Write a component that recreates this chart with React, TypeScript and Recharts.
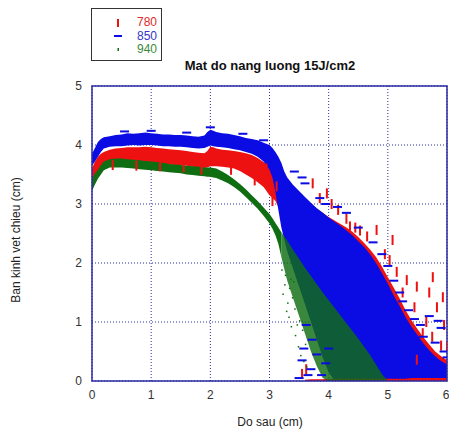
import React from 'react';
import { ComposedChart, Area, Scatter, XAxis, YAxis, CartesianGrid, ReferenceArea } from 'recharts';

// depth samples (cm)
const xs = [
  0, 0.05, 0.1, 0.15, 0.2,
  0.3, 0.4, 0.5, 0.6, 0.7, 0.8, 0.9, 1.0, 1.1, 1.2,
  1.3, 1.4, 1.5, 1.6, 1.7, 1.8, 1.9, 1.95, 2.0, 2.05,
  2.1, 2.2, 2.3, 2.4, 2.5, 2.6, 2.7, 2.8, 2.9, 3.0,
  3.05, 3.1, 3.15, 3.2, 3.25, 3.3, 3.4, 3.5, 3.6, 3.7,
  3.8, 3.9, 4.0, 4.1, 4.2, 4.3, 4.4, 4.5, 4.6, 4.7,
  4.8, 4.9, 5.0, 5.1, 5.2, 5.3, 5.4, 5.5, 5.6, 5.7,
  5.8, 5.9, 6.0,
];

// 780 nm cloud (upper / lower edge)
const redHigh = [
  3.6, 3.72, 3.8, 3.85, 3.88,
  3.92, 3.94, 3.95, 3.96, 3.96, 3.96, 3.97, 3.96, 3.95, 3.94,
  3.93, 3.92, 3.91, 3.9, 3.88, 3.87, 3.86, 3.9, 3.97, 3.96,
  3.94, 3.92, 3.91, 3.9, 3.88, 3.86, 3.83, 3.78, 3.71, 3.63,
  3.58, 3.52, 3.45, 3.4, 3.36, 3.32, 3.3, 3.2, 3.1, 3.0,
  2.92, 2.85, 2.78, 2.72, 2.66, 2.6, 2.53, 2.44, 2.34, 2.23,
  2.1, 1.94, 1.76, 1.58, 1.4, 1.2, 1.03, 0.88, 0.74, 0.62,
  0.5, 0.42, 0.35,
];
const redLow = [
  3.32, 3.42, 3.5, 3.57, 3.63,
  3.7, 3.7, 3.7, 3.7, 3.7, 3.69, 3.69, 3.69, 3.68, 3.68,
  3.67, 3.66, 3.66, 3.65, 3.63, 3.62, 3.61, 3.62, 3.64, 3.64,
  3.64, 3.63, 3.62, 3.6, 3.56, 3.5, 3.44, 3.37, 3.29, 3.15,
  3.1, 3.05, 2.95, 2.85, 2.6, 2.4, 2.1, 1.8, 1.5, 1.2,
  0.9, 0.6, 0.3, 0, 0, 0, 0, 0, 0, 0,
  0, 0, 0, 0, 0, 0, 0, 0, 0, 0,
  0, 0, 0,
];

// 850 nm cloud
const blueHigh = [
  3.85, 3.95, 4.05, 4.1, 4.13,
  4.15, 4.17, 4.18, 4.2, 4.19, 4.2, 4.21, 4.2, 4.19, 4.18,
  4.18, 4.17, 4.17, 4.16, 4.15, 4.14, 4.16, 4.22, 4.26, 4.24,
  4.22, 4.2, 4.19, 4.17, 4.15, 4.12, 4.1, 4.08, 4.04, 4.0,
  3.95, 3.88, 3.8, 3.7, 3.55, 3.45, 3.32, 3.22, 3.12, 3.02,
  2.93, 2.85, 2.77, 2.7, 2.63, 2.55, 2.47, 2.37, 2.27, 2.15,
  2.0, 1.83, 1.65, 1.45, 1.27, 1.08, 0.92, 0.78, 0.64, 0.52,
  0.42, 0.34, 0.28,
];
const blueLow = [
  3.65, 3.72, 3.8, 3.88, 3.94,
  3.97, 3.98, 3.98, 3.99, 4.0, 3.99, 4.0, 4.0, 3.99, 3.98,
  3.98, 3.97, 3.97, 3.96, 3.95, 3.94, 3.95, 3.97, 3.99, 3.98,
  3.97, 3.96, 3.95, 3.93, 3.91, 3.88, 3.85, 3.8, 3.72, 3.58,
  3.45, 3.2, 2.9, 2.6, 2.4, 2.2, 1.9, 1.6, 1.3, 1.0,
  0.7, 0.4, 0.15, 0, 0, 0, 0, 0, 0, 0,
  0, 0, 0, 0, 0, 0, 0, 0, 0, 0,
  0, 0, 0,
];

// 940 nm cloud
const greenHigh = [
  3.42, 3.52, 3.58, 3.66, 3.72,
  3.76, 3.77, 3.77, 3.76, 3.75, 3.74, 3.73, 3.72, 3.71, 3.7,
  3.68, 3.67, 3.66, 3.65, 3.64, 3.63, 3.62, 3.62, 3.62, 3.61,
  3.6, 3.55, 3.49, 3.42, 3.34, 3.25, 3.15, 3.05, 2.94, 2.83,
  2.76, 2.68, 2.6, 2.52, 2.45, 2.38, 2.22, 2.07, 1.92, 1.78,
  1.64, 1.5, 1.37, 1.24, 1.11, 0.98, 0.85, 0.72, 0.58, 0.44,
  0.28, 0.12, 0, 0, 0, 0, 0, 0, 0, 0,
  0, 0, 0,
];
const greenLow = [
  3.22, 3.33, 3.43, 3.5, 3.57,
  3.62, 3.62, 3.62, 3.61, 3.6, 3.59, 3.58, 3.57, 3.56, 3.55,
  3.54, 3.53, 3.52, 3.5, 3.49, 3.48, 3.47, 3.46, 3.46, 3.45,
  3.44, 3.4, 3.35, 3.29, 3.21, 3.12, 3.02, 2.92, 2.8, 2.67,
  2.58, 2.47, 2.32, 2.1, 1.9, 1.7, 1.4, 1.1, 0.8, 0.5,
  0.25, 0.05, 0, 0, 0, 0, 0, 0, 0, 0,
  0, 0, 0, 0, 0, 0, 0, 0, 0, 0,
  0, 0, 0,
];

// 780 nm points lying on the floor of the plot
const redFloorX = [3.6, 3.7, 3.8, 3.9, 4.0, 4.1, 4.2, 4.3, 4.4, 4.5, 4.6, 4.7, 4.8, 4.9, 5.0, 5.1, 5.2, 5.3, 5.4, 5.5, 5.6, 5.7, 5.8, 5.9, 6.0];
const redFloorTop = [0.02, 0.03, 0.03, 0.03, 0.04, 0.04, 0.04, 0.04, 0.04, 0.04, 0.04, 0.04, 0.04, 0.04, 0.04, 0.04, 0.04, 0.04, 0.05, 0.05, 0.05, 0.05, 0.05, 0.05, 0.05];

// stray points outside the dense clouds
const redMarks = [
  [0.35, 3.66], [0.75, 3.65], [1.15, 3.64], [1.55, 3.62], [1.85, 3.58], [2.35, 3.58], [2.75, 3.4], [3.05, 3.05],
  [2.95, 3.6], [3.12, 3.3],
  [3.73, 3.35], [3.97, 3.18], [4.16, 2.9], [4.36, 2.62], [4.53, 2.55], [4.81, 2.56], [5.08, 2.39], [5.03, 2.05],
  [5.32, 1.71], [5.49, 1.6], [5.76, 1.76], [5.93, 1.42], [5.83, 1.25], [5.59, 0.81], [6.0, 0.58], [5.49, 0.36],
  [4.3, 2.75], [4.65, 2.45], [4.95, 2.15], [5.15, 1.85], [5.25, 1.5], [5.45, 1.25], [5.65, 1.0], [5.75, 0.75],
  [5.9, 0.6], [5.95, 0.95], [4.05, 3.0], [3.85, 3.1], [5.7, 1.5], [3.55, 0.12], [3.62, 0.2], [4.45, 2.6],
];
const blueMarks = [
  [0.55, 4.23], [1.0, 4.24], [1.6, 4.21], [2.0, 4.3], [2.55, 4.19], [2.9, 4.08],
  [3.42, 3.55], [3.55, 3.45], [3.6, 3.35], [3.85, 3.1], [3.95, 3.0], [4.15, 2.95], [4.3, 2.85], [4.5, 2.6], [4.75, 2.35],
  [4.9, 2.15], [5.0, 1.95], [5.1, 1.7], [5.2, 1.5], [5.25, 1.35], [5.35, 1.2], [5.45, 1.05], [5.55, 0.95], [5.6, 0.75],
  [5.7, 1.1], [5.8, 0.65], [5.85, 1.02], [5.9, 0.9], [5.95, 0.5], [6.0, 0.4],
  [3.55, 0.35], [3.58, 0.55], [3.62, 0.95], [3.7, 0.2], [3.72, 0.7], [3.8, 0.45], [3.88, 0.1], [3.95, 0.3], [4.0, 0.55],
  [3.65, 0.1], [3.5, 0.05],
];
const greenMarks = [
  [3.21, 1.88], [3.23, 1.47], [3.26, 1.63], [3.27, 1.79], [3.31, 1.32], [3.33, 1.08], [3.34, 1.57], [3.37, 0.92],
  [3.41, 1.68], [3.43, 1.22], [3.44, 0.77], [3.49, 0.58], [3.51, 1.02], [3.53, 0.43], [3.56, 0.86], [3.58, 0.33],
  [3.61, 0.62], [3.63, 0.24], [3.29, 1.18], [3.39, 1.41], [3.47, 0.95], [3.36, 1.72],
];

const table = xs.map((x, i) => {
  const f = redFloorX.indexOf(x);
  const g = [greenLow[i], greenHigh[i]];
  return {
    x,
    red: [redLow[i], redHigh[i]],
    blue: [blueLow[i], blueHigh[i]],
    green: x <= 3.2 ? g : null,
    greenCloud: x >= 3.2 ? g : null,
    floor: f >= 0 ? [0, redFloorTop[f]] : null,
  };
});

const toPoints = (list: number[][]) => list.map(([x, y]) => ({ x, y }));

const RED = '#ee1111';
const BLUE = '#0b0be4';
const GREEN = '#0f6e12';
const FRAME = '#2b2ba3';
const FONT = '"Liberation Sans", Arial, sans-serif';

const RedTick = (p: any) => <rect x={p.cx - 1} y={p.cy - 5} width={2} height={10} fill={RED} />;
const BlueDash = (p: any) => <rect x={p.cx - 4.5} y={p.cy - 1} width={9} height={2} fill={BLUE} />;
const GreenDot = (p: any) => <rect x={p.cx - 0.75} y={p.cy - 0.75} width={1.5} height={1.5} fill={GREEN} />;

export default function App() {
  return (
    <div style={{ position: 'absolute', left: 0, top: 0, width: 449, height: 433, background: '#fff', fontFamily: FONT }}>
      <ComposedChart width={449} height={433} data={table} margin={{ top: 86, right: 2, bottom: 0, left: 0 }}>
        <CartesianGrid stroke={FRAME} strokeDasharray="1 2" />
        <XAxis
          dataKey="x"
          type="number"
          domain={[0, 6]}
          ticks={[0, 1, 2, 3, 4, 5, 6]}
          allowDataOverflow
          height={52}
          axisLine={false}
          tickLine={false}
          tickSize={0}
          tickMargin={9}
          tick={{ fontSize: 12, fill: '#333', fontFamily: FONT }}
        />
        <YAxis
          type="number"
          domain={[0, 5]}
          ticks={[0, 1, 2, 3, 4, 5]}
          allowDataOverflow
          width={92}
          axisLine={false}
          tickLine={false}
          tickSize={0}
          tickMargin={10}
          tick={{ fontSize: 12, fill: '#333', fontFamily: FONT }}
        />
        <Area dataKey="red" type="linear" stroke="none" fill={RED} fillOpacity={1} isAnimationActive={false} />
        <Area dataKey="blue" type="linear" stroke="none" fill={BLUE} fillOpacity={1} isAnimationActive={false} />
        <Area dataKey="floor" type="linear" stroke="none" fill={RED} fillOpacity={1} isAnimationActive={false} />
        <Area dataKey="green" type="linear" stroke="none" fill={GREEN} fillOpacity={1} isAnimationActive={false} />
        <Area dataKey="greenCloud" type="linear" stroke="none" fill={GREEN} fillOpacity={0.82} isAnimationActive={false} />
        <Scatter data={toPoints(redMarks)} dataKey="y" shape={RedTick} isAnimationActive={false} />
        <Scatter data={toPoints(blueMarks)} dataKey="y" shape={BlueDash} isAnimationActive={false} />
        <Scatter data={toPoints(greenMarks)} dataKey="y" shape={GreenDot} isAnimationActive={false} />
        <ReferenceArea x1={0} x2={6} y1={0} y2={5} fill="none" stroke={FRAME} strokeWidth={1.5} />
      </ComposedChart>

      <div style={{ position: 'absolute', left: 120, top: 58, width: 300, textAlign: 'center', fontSize: 13, fontWeight: 'bold', color: '#111', lineHeight: '16px' }}>
        Mat do nang luong 15J/cm2
      </div>
      <div style={{ position: 'absolute', left: 170, top: 414, width: 200, textAlign: 'center', fontSize: 12, color: '#222', lineHeight: '16px' }}>
        Do sau (cm)
      </div>
      <div style={{ position: 'absolute', left: -84, top: 232, width: 200, height: 16, textAlign: 'center', fontSize: 12, color: '#222', lineHeight: '16px', transform: 'rotate(-90deg)' }}>
        Ban kinh vet chieu (cm)
      </div>

      <div style={{ position: 'absolute', left: 91, top: 8, width: 71, height: 53, border: '1px solid #333', boxSizing: 'border-box' }}>
        {[
          { name: '780', text: '#dd2a2a', mark: <rect x={5} y={2} width={2} height={8} fill={RED} /> },
          { name: '850', text: '#3434c8', mark: <rect x={2} y={5} width={8} height={2} fill={BLUE} /> },
          { name: '940', text: '#3a8a3a', mark: <rect x={5.5} y={4} width={1.5} height={3} fill={GREEN} /> },
        ].map((s, i) => (
          <div key={s.name} style={{ position: 'absolute', left: 20, top: 7 + i * 13.5, height: 13, display: 'flex', alignItems: 'center' }}>
            <svg width={12} height={12} style={{ marginRight: 13 }}>{s.mark}</svg>
            <span style={{ fontSize: 12, color: s.text, lineHeight: '13px' }}>{s.name}</span>
          </div>
        ))}
      </div>
    </div>
  );
}
